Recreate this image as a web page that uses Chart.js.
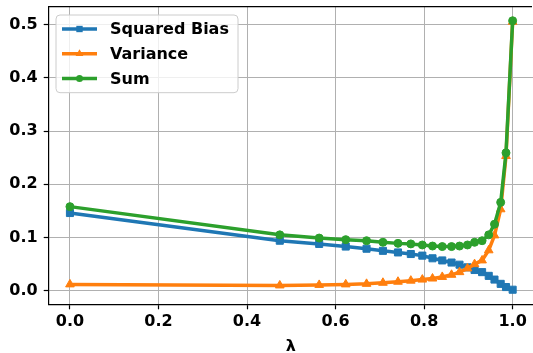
<!DOCTYPE html>
<html>
<head>
<meta charset="utf-8">
<title>Bias-variance vs lambda</title>
<script src="https://cdn.jsdelivr.net/npm/chart.js@4.4.1/dist/chart.umd.min.js"></script>
<style>
    html, body { margin: 0; padding: 0; background: #fff; }
    #chart { display: block; }
</style>
</head>
<body>
<canvas id="chart" width="533" height="353"></canvas>
<script>
// valores
const lambdas = [0, 0.474, 0.563, 0.623, 0.670, 0.707, 0.741, 0.770, 0.796, 0.819, 0.841,
                 0.862, 0.880, 0.898, 0.914, 0.931, 0.946, 0.959, 0.973, 0.985, 1.0];
const squaredBias = [0.146, 0.094, 0.088, 0.083, 0.079, 0.075, 0.072, 0.069, 0.066, 0.061, 0.057,
                     0.053, 0.049, 0.044, 0.039, 0.035, 0.028, 0.021, 0.013, 0.007, 0.002];
const variance = [0.012, 0.010, 0.011, 0.012, 0.013, 0.015, 0.017, 0.019, 0.021, 0.023, 0.026,
                  0.030, 0.035, 0.042, 0.050, 0.057, 0.076, 0.104, 0.153, 0.253, 0.505];
const total = [0.158, 0.105, 0.099, 0.096, 0.094, 0.091, 0.089, 0.088, 0.086, 0.084, 0.083,
               0.083, 0.084, 0.086, 0.091, 0.094, 0.105, 0.125, 0.166, 0.259, 0.507];
const xTicks = [0, 0.2, 0.4, 0.6, 0.8, 1.0];
const yTicks = [0, 0.1, 0.2, 0.3, 0.4, 0.5];

const FONT = '"DejaVu Sans", "Liberation Sans", sans-serif';
const GRID = '#b0b0b0';

function toPoints(ys) {
    return lambdas.map((x, i) => ({ x: x, y: ys[i] }));
}

// marcador simple para la leyenda
function drawMarker(ctx, style, x, y, r, color) {
    ctx.fillStyle = color;
    ctx.beginPath();
    if (style === 'rect') {
        const s = r * Math.SQRT1_2;
        ctx.rect(x - s, y - s, 2 * s, 2 * s);
    } else if (style === 'triangle') {
        ctx.moveTo(x, y - r);
        ctx.lineTo(x + r * 0.866, y + r * 0.5);
        ctx.lineTo(x - r * 0.866, y + r * 0.5);
        ctx.closePath();
    } else {
        ctx.arc(x, y, r, 0, Math.PI * 2);
    }
    ctx.fill();
}

// leyenda dentro del area + borde superior
const insideLegend = {
    id: 'insideLegend',
    afterDatasetsDraw(chart) {
        const { ctx, chartArea } = chart;
        ctx.save();
        // borde superior (sin llegar al borde derecho del canvas)
        ctx.strokeStyle = '#000';
        ctx.lineWidth = 1.2;
        ctx.beginPath();
        ctx.moveTo(chartArea.left, chartArea.top);
        ctx.lineTo(chartArea.right - 1, chartArea.top);
        ctx.stroke();

        const x0 = chartArea.left + 7.3;
        const y0 = chartArea.top + 8.3;
        ctx.beginPath();
        ctx.roundRect(x0, y0, 182, 77.7, 4);
        ctx.fillStyle = 'rgba(255,255,255,0.8)';
        ctx.fill();
        ctx.strokeStyle = '#cccccc';
        ctx.lineWidth = 1;
        ctx.stroke();

        ctx.font = 'bold 16px ' + FONT;
        ctx.textBaseline = 'middle';
        ctx.textAlign = 'left';
        chart.data.datasets.forEach((ds, i) => {
            const y = y0 + 14 + i * 24.7;
            ctx.strokeStyle = ds.borderColor;
            ctx.lineWidth = 3.5;
            ctx.beginPath();
            ctx.moveTo(x0 + 6, y);
            ctx.lineTo(x0 + 41, y);
            ctx.stroke();
            drawMarker(ctx, ds.pointStyle, x0 + 23.5, y, ds.pointRadius - 0.5, ds.borderColor);
            ctx.fillStyle = '#000';
            ctx.fillText(ds.label, x0 + 54, y + 1);
        });
        ctx.restore();
    }
};

function makeDataset(label, ys, color, style, radius, order) {
    return {
        label: label,
        data: toPoints(ys),
        borderColor: color,
        backgroundColor: color,
        pointBackgroundColor: color,
        pointBorderColor: color,
        pointBorderWidth: 1,
        pointStyle: style,
        pointRadius: radius,
        borderWidth: 3.5,
        tension: 0,
        order: order
    };
}

const ctx = document.getElementById('chart');
new Chart(ctx, {
    type: 'line',
    data: {
        datasets: [
            makeDataset('Squared Bias', squaredBias, '#1f77b4', 'rect', 5, 3),
            makeDataset('Variance', variance, '#ff7f0e', 'triangle', 5, 2),
            makeDataset('Sum', total, '#2ca02c', 'circle', 4, 1)
        ]
    },
    options: {
        responsive: false,
        devicePixelRatio: 1,
        animation: false,
        layout: {
            autoPadding: false,
            padding: { top: 6.7, right: 0, bottom: 0, left: 0 }
        },
        plugins: {
            legend: { display: false },
            tooltip: { enabled: false }
        },
        scales: {
            x: {
                type: 'linear',
                min: -0.048,
                max: 1.046,
                afterBuildTicks: s => { s.ticks = xTicks.map(v => ({ value: v })); },
                afterFit: s => {
                    s.height = 48.7;
                    s.paddingLeft = 0;
                    s.paddingRight = 0;
                },
                ticks: {
                    callback: v => v.toFixed(1),
                    color: '#000',
                    font: { family: FONT, size: 16, weight: 'bold' },
                    padding: 3,
                    maxRotation: 0
                },
                grid: { color: GRID, lineWidth: 1, tickLength: 5, tickColor: '#000', tickWidth: 1.2 },
                border: { color: '#000', width: 1.2 },
                title: {
                    display: true,
                    text: 'λ',
                    color: '#000',
                    font: { family: FONT, size: 16, weight: 'bold' },
                    padding: { top: 0, bottom: -3 }
                }
            },
            y: {
                type: 'linear',
                min: -0.0254,
                max: 0.5334,
                afterBuildTicks: s => { s.ticks = yTicks.map(v => ({ value: v })); },
                afterFit: s => {
                    s.width = 48.7;
                    s.paddingTop = 0;
                    s.paddingBottom = 0;
                },
                ticks: {
                    callback: v => v.toFixed(1),
                    color: '#000',
                    font: { family: FONT, size: 16, weight: 'bold' },
                    padding: 6
                },
                grid: { color: GRID, lineWidth: 1, tickLength: 5, tickColor: '#000', tickWidth: 1.2 },
                border: { color: '#000', width: 1.2 }
            }
        }
    },
    plugins: [insideLegend]
});
</script>
</body>
</html>
